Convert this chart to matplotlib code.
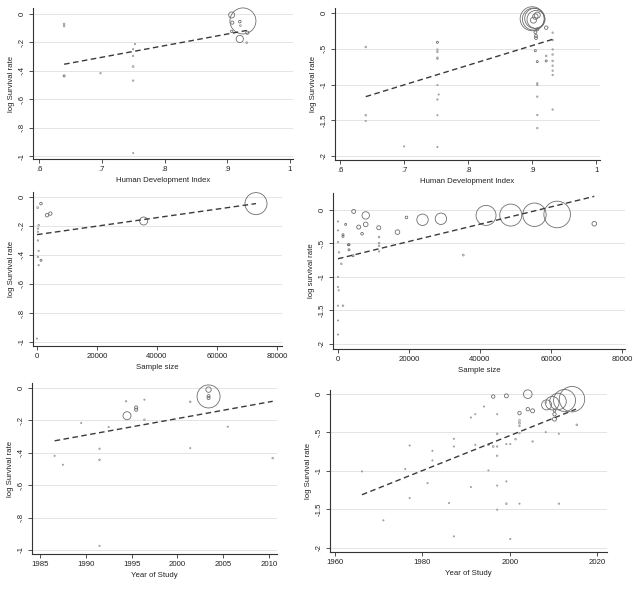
import numpy as np
import matplotlib.pyplot as plt

plt.rcParams['font.family'] = ['Liberation Sans', 'DejaVu Sans']

# ---- panel a: HDI (subset 1)
hdi_a = [0.64, 0.64, 0.64, 0.698, 0.753, 0.75, 0.75, 0.75, 0.75, 0.75,
         0.925, 0.907, 0.908, 0.92, 0.921, 0.92, 0.932, 0.931, 0.907]
lsr_a = [-0.07, -0.085, -0.436, -0.417, -0.212, -0.248, -0.295, -0.37, -0.469, -0.979,
         -0.049, -0.007, -0.061, -0.054, -0.082, -0.176, -0.132, -0.202, -0.123]
wt_a = [0.8, 0.8, 1, 0.7, 0.7, 0.7, 0.7, 0.9, 0.7, 0.6,
        13, 3, 1.6, 1.3, 0.9, 3.6, 1.6, 0.9, 1.2]
fitx_a = [0.64, 0.931]
fity_a = [-0.354, -0.116]

# ---- panel b: HDI (subset 2)
hdi_b = [0.64, 0.64, 0.64, 0.70,
         0.752, 0.752, 0.752, 0.752, 0.752, 0.752, 0.754, 0.752, 0.752, 0.752,
         0.900, 0.902, 0.904, 0.906, 0.905, 0.902, 0.908,
         0.922, 0.908, 0.905, 0.906, 0.906, 0.905, 0.908, 0.908, 0.908, 0.908, 0.908, 0.908,
         0.922, 0.922, 0.932, 0.932, 0.932, 0.932, 0.932, 0.932, 0.932, 0.932, 0.932]
lsr_b = [-0.476, -1.43, -1.51, -1.865,
         -0.41, -0.513, -0.545, -0.625, -0.64, -1.007, -1.14, -1.21, -1.43, -1.874,
         -0.08, -0.085, -0.075, -0.09, -0.05, -0.1, -0.03,
         -0.205, -0.229, -0.27, -0.32, -0.35, -0.527, -0.68, -0.983, -1.007, -1.17, -1.427, -1.61,
         -0.6, -0.67, -0.275, -0.378, -0.51, -0.58, -0.67, -0.737, -0.807, -0.867, -1.35]
wt_b = [0.8, 0.8, 0.6, 0.6,
        1, 0.8, 0.7, 0.8, 0.7, 0.6, 0.6, 0.7, 0.6, 0.6,
        12, 11, 10, 9, 2.7, 3, 3,
        1.7, 1.4, 1.4, 1.4, 1.4, 1, 1, 0.7, 0.7, 0.7, 0.7, 0.7,
        0.8, 1, 0.7, 0.7, 0.7, 0.8, 0.8, 0.7, 0.7, 0.7, 0.7]
fitx_b = [0.64, 0.932]
fity_b = [-1.17, -0.368]

# ---- panel c: sample size (subset 1)
n_c = [73000, 35560, 3333, 4444, 1333, 222, 556, 300, 300, 300, 556, 300, 1333, 556, 0]
lsr_c = [-0.046, -0.166, -0.126, -0.115, -0.046, -0.074, -0.195, -0.218, -0.24, -0.3,
         -0.372, -0.414, -0.437, -0.471, -0.977]
wt_c = [11, 4, 1.7, 1.7, 1.3, 0.9, 0.8, 0.7, 0.7, 0.7, 0.7, 0.7, 1, 0.7, 0.6]
fitx_c = [0, 73000]
fity_c = [-0.26, -0.046]

# ---- panel d: sample size (subset 2)
n_d = [41700, 48660, 55340, 61740, 72190, 28990, 23810, 19290, 16750, 35290,
       4420, 7810, 7810, 5840, 11480, 6780, 2160, 1410, 1410, 2920, 3100, 3100, 4240,
       11570, 11570, 11570, 11570, 0, 0, 0, 280, 940, 0, 0, 200, 0, 1410, 0, 0]
lsr_d = [-0.084, -0.079, -0.074, -0.07, -0.208, -0.134, -0.149, -0.114, -0.333, -0.675,
         -0.025, -0.084, -0.218, -0.258, -0.268, -0.357, -0.218, -0.372, -0.397, -0.521, -0.521, -0.596, -0.685,
         -0.407, -0.496, -0.536, -0.62, -0.174, -0.308, -0.481, -0.635, -0.804, -1.0, -1.15, -1.2, -1.43, -1.43, -1.65, -1.86]
wt_d = [10, 11, 11.7, 13.3, 2.3, 5.7, 5.7, 1.3, 2.3, 0.9,
        2, 3.7, 2.3, 2, 2, 1.3, 1, 1, 1, 1, 1, 1, 1,
        0.8, 0.8, 0.8, 0.7, 0.6, 0.6, 0.6, 0.7, 0.8, 0.6, 0.6, 0.6, 0.6, 0.8, 0.6, 0.6]
fitx_d = [0, 72190]
fity_d = [-0.73, 0.2]

# ---- panel e: year of study (subset 1)
yr_e = [1994.5, 1995.5, 1995.5, 1994.4, 1996.4, 1996.4, 1989.5, 1992.5, 1986.6, 1987.5,
        1991.5, 1991.5, 1991.5, 2001.4, 2001.4, 2005.5, 2010.4, 2003.4, 2003.4, 2003.4, 2003.4]
lsr_e = [-0.171, -0.12, -0.134, -0.082, -0.072, -0.196, -0.216, -0.241, -0.419, -0.474,
         -0.375, -0.443, -0.975, -0.085, -0.371, -0.239, -0.433, -0.052, -0.01, -0.05, -0.062]
wt_e = [4, 1.6, 1.6, 0.7, 0.6, 0.8, 0.6, 0.6, 0.6, 0.6,
        0.7, 0.8, 0.6, 0.8, 0.6, 0.6, 0.8, 11.5, 2.7, 1.5, 1.5]
fitx_e = [1986.6, 2010.4]
fity_e = [-0.326, -0.082]

# ---- panel f: year of study (subset 2)
yr_f = [2014.2, 2012.5, 2011.0, 2009.7, 2008.4, 2004.1, 1999.2, 1996.2, 2002.2, 2004.1,
        2005.2, 2010.2, 2010.2, 2010.2, 2008.2, 2002.2, 2002.2, 2002.2, 2002.2, 2001.3,
        2008.2, 2011.2, 2015.3, 2005.2, 1997.1, 1997.1, 1997.1, 1997.1, 1997.1, 1997.1,
        1995.1, 1996.2, 1995.1, 1999.2, 2000.1, 1999.2, 1999.2, 2002.2, 2011.2, 2000.1,
        1994.1, 1992.1, 1991.1, 1992.1, 1991.1, 1987.2, 1987.2, 1987.2, 1986.1, 1982.3,
        1982.3, 1981.2, 1977.1, 1977.1, 1976.1, 1971.1, 1966.2]
lsr_f = [-0.069, -0.086, -0.099, -0.121, -0.143, -0.004, -0.026, -0.035, -0.25, -0.199,
         -0.22, -0.264, -0.328, -0.22, -0.112, -0.346, -0.38, -0.415, -0.51, -0.588,
         -0.497, -0.518, -0.402, -0.618, -0.264, -0.518, -0.683, -0.803, -1.19, -1.503,
         -0.66, -0.683, -0.993, -0.652, -0.652, -1.136, -1.425, -1.425, -1.425, -1.883,
         -0.164, -0.264, -0.307, -0.661, -1.21, -0.583, -0.683, -1.849, -1.417, -0.739,
         -0.864, -1.158, -0.67, -1.352, -0.976, -1.641, -1.006]
wt_f = [12.7, 11, 8.3, 6.7, 5, 4.3, 2, 1.7, 1.7, 1.7,
        2, 1.7, 2, 1.2, 0.8, 0.9, 0.9, 0.8, 0.7, 0.8,
        0.6, 0.6, 0.8, 0.7, 0.6, 0.8, 0.7, 0.7, 0.6, 0.6,
        0.9, 0.9, 0.6, 0.6, 0.6, 0.6, 0.8, 0.6, 0.7, 0.6,
        0.6, 0.6, 0.6, 0.6, 0.6, 0.6, 0.6, 0.6, 0.6, 0.6,
        0.6, 0.6, 0.6, 0.6, 0.6, 0.6, 0.6]
fitx_f = [1966.2, 2015.1]
fity_f = [-1.309, -0.199]

yt1 = [0, -0.2, -0.4, -0.6, -0.8, -1]
yl1 = ['0', '-.2', '-.4', '-.6', '-.8', '-1']
yt2 = [0, -0.5, -1, -1.5, -2]
yl2 = ['0', '-.5', '-1', '-1.5', '-2']
hdi_ticks = [0.6, 0.7, 0.8, 0.9, 1.0]
hdi_labels = ['.6', '.7', '.8', '.9', '1']
n_ticks = [0, 20000, 40000, 60000, 80000]
yr_ticks_e = [1985, 1990, 1995, 2000, 2005, 2010]
yr_ticks_f = [1960, 1980, 2000, 2020]

W, H = 640, 590
fig = plt.figure(figsize=(6.4, 5.9), dpi=100)
fs = 5.6


def panel(box, xlim, ylim, x, y, wt, fx, fy, xt, xtl, yt, ytl, xlab, ylab):
    l, r, t, b = box
    ax = fig.add_axes([l / W, 1 - b / H, (r - l) / W, (b - t) / H])
    ax.set_xlim(xlim)
    ax.set_ylim(ylim)
    for v in yt:
        ax.axhline(v, color='#e4e4e4', lw=0.7, zorder=0)
    wt = np.array(wt)
    s = (2 * wt * 0.72) ** 2
    ec = np.where(wt < 1, '#9a9a9a', '#6e6e6e')
    ax.scatter(x, y, s=s, facecolors='none', edgecolors=ec,
               linewidths=0.6, clip_on=False, zorder=2)
    ax.plot(fx, fy, color='#3a3a3a', lw=1.0, ls=(0, (4, 2.5)), zorder=3)
    ax.set_xticks(xt, xtl)
    ax.set_yticks(yt, ytl)
    ax.tick_params(axis='both', labelsize=fs, length=3, width=0.6,
                   color='#333333', labelcolor='#222222', pad=2)
    ax.tick_params(axis='y', labelrotation=90)
    for lab in ax.get_yticklabels():
        lab.set_va('center')
    for sp in ['top', 'right']:
        ax.spines[sp].set_visible(False)
    for sp in ['left', 'bottom']:
        ax.spines[sp].set_color('#333333')
        ax.spines[sp].set_linewidth(0.8)
    ax.set_xlabel(xlab, fontsize=fs, labelpad=3, color='#222222')
    ax.set_ylabel(ylab, fontsize=fs, labelpad=3, color='#222222')
    ax.set_facecolor('none')
    return ax


panel((33, 293, 8, 159), (0.5904, 1.0048), (-1.021, 0.042),
      hdi_a, lsr_a, wt_a, fitx_a, fity_a, hdi_ticks, hdi_labels, yt1, yl1,
      'Human Development Index', 'log Survival rate')
panel((335, 600, 8, 160), (0.592, 1.006), (-2.056, 0.07),
      hdi_b, lsr_b, wt_b, fitx_b, fity_b, hdi_ticks, hdi_labels, yt2, yl2,
      'Human Development Index', 'log Survival rate')
panel((33, 282, 192, 346), (-1333, 81667), (-1.028, 0.034),
      n_c, lsr_c, wt_c, fitx_c, fity_c, n_ticks, [str(v) for v in n_ticks], yt1, yl1,
      'Sample size', 'log Survival rate')
panel((333, 625, 193, 349), (-1408, 80845), (-2.075, 0.25),
      n_d, lsr_d, wt_d, fitx_d, fity_d, n_ticks, [str(v) for v in n_ticks], yt2, yl2,
      'Sample size', 'log survival rate')
panel((32, 277, 383, 554), (1984.13, 2010.87), (-1.025, 0.031),
      yr_e, lsr_e, wt_e, fitx_e, fity_e, yr_ticks_e, [str(v) for v in yr_ticks_e], yt1, yl1,
      'Year of Study', 'log Survival rate')
panel((330, 607, 390, 552), (1958.9, 2022.2), (-2.052, 0.05),
      yr_f, lsr_f, wt_f, fitx_f, fity_f, yr_ticks_f, [str(v) for v in yr_ticks_f], yt2, yl2,
      'Year of Study', 'log Survival rate')

fig.savefig('out.png', dpi=100)
